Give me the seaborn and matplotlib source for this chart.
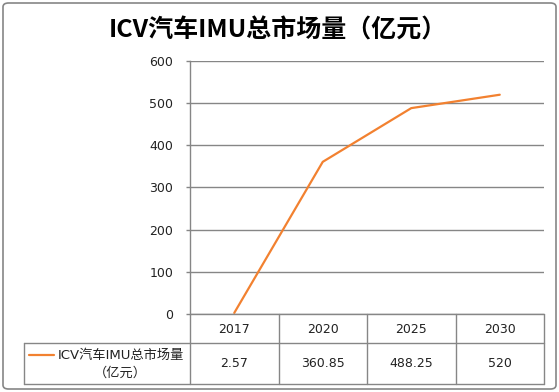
import matplotlib
matplotlib.use("Agg")
import matplotlib.pyplot as plt
from matplotlib.patches import FancyBboxPatch
import seaborn as sns
import pandas as pd
import numpy as np

# ---- data ----
years = ["2017", "2020", "2025", "2030"]
values = [2.57, 360.85, 488.25, 520]
value_labels = ["2.57", "360.85", "488.25", "520"]
series_name = "ICV汽车IMU总市场量"
series_unit = "（亿元）"
title = "ICV汽车IMU总市场量（亿元）"
y_ticks = [0, 100, 200, 300, 400, 500, 600]

sns.set_theme(style="white")
plt.rcParams['font.family'] = ['DejaVu Sans', 'Noto Sans CJK SC']

W, H = 559, 392
fig = plt.figure(figsize=(W / 100, H / 100), dpi=100)

def fx(px):
    return px / W

def fy(py):
    return 1 - py / H

GRAY = "#868686"
ORANGE = "#F28130"
TXT = "#222222"
FS = 9

# outer border
fig.patches.append(FancyBboxPatch((fx(3), fy(389)), fx(553), (389 - 3) / H,
                                  boxstyle="round,pad=0,rounding_size=0.01",
                                  transform=fig.transFigure, fill=False,
                                  edgecolor=GRAY, linewidth=1.2))

# title
fig.text(fx(278), fy(30), title, ha="center", va="center",
         fontsize=18, fontweight="bold", color="black",
         family=['Noto Sans CJK SC', 'DejaVu Sans'])

# plot axes
L, R, T, B = 190, 544, 61, 314
ax = fig.add_axes([fx(L), fy(B), fx(R - L), (B - T) / H])
df = pd.DataFrame({"pos": np.arange(len(years)), "value": values})
sns.lineplot(data=df, x="pos", y="value", ax=ax, color=ORANGE, linewidth=1.6)
ax.set_xlim(-0.5, len(years) - 0.5)
ax.set_ylim(0, 600)
ax.set_yticks(y_ticks)
ax.set_yticklabels([str(v) for v in y_ticks], fontsize=FS, color=TXT)
ax.set_xticks([])
ax.set_xlabel("")
ax.set_ylabel("")
for v in y_ticks:
    ax.axhline(v, color=GRAY, linewidth=1.0, zorder=0)
for s in ["right", "bottom", "top"]:
    ax.spines[s].set_visible(False)
ax.spines["left"].set_color(GRAY)
ax.spines["left"].set_linewidth(1.0)
ax.tick_params(axis="y", left=True, length=3, width=1, color=GRAY, pad=9)

# table axes
TL, TR, TT, TM, TB = 24, 544, 314, 343, 384
tax = fig.add_axes([fx(TL), fy(TB), fx(TR - TL), (TB - TT) / H])
tax.set_xlim(TL, TR)
tax.set_ylim(TB, TT)
tax.axis("off")
ncol = len(years)
colw = (TR - L) / ncol
lk = dict(color=GRAY, linewidth=1.0, clip_on=False)
tax.plot([L, TR], [TT, TT], **lk)
tax.plot([TL, TR], [TM, TM], **lk)
tax.plot([TL, TR], [TB, TB], **lk)
tax.plot([TL, TL], [TM, TB], **lk)
for i in range(ncol + 1):
    x = L + i * colw
    tax.plot([x, x], [TT, TB], **lk)
for i, (yr, lab) in enumerate(zip(years, value_labels)):
    cx = L + (i + 0.5) * colw
    tax.text(cx, (TT + TM) / 2 + 1, yr, ha="center", va="center", fontsize=FS, color=TXT)
    tax.text(cx, (TM + TB) / 2, lab, ha="center", va="center", fontsize=FS, color=TXT)
# legend key in row label
tax.plot([29, 54], [355, 355], color=ORANGE, linewidth=1.6, clip_on=False)
tax.text(58, 355, series_name, ha="left", va="center", fontsize=9.5, color=TXT)
tax.text(120, 373, series_unit, ha="center", va="center", fontsize=9.5, color=TXT)

fig.savefig("out.png", dpi=100)
